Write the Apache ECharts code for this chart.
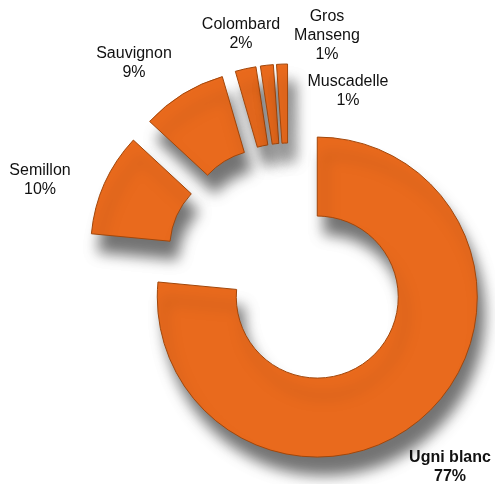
<!DOCTYPE html>
<html>
<head>
<meta charset="utf-8">
<script src="https://cdn.jsdelivr.net/npm/echarts@6/dist/echarts.min.js"></script>
<style>
html,body{margin:0;padding:0;background:#fff;}
#main{width:495px;height:484px;}
</style>
</head>
<body>
<div id="main"></div>
<script>
var categories = ['Ugni blanc', 'Semillon', 'Sauvignon', 'Colombard', 'Gros Manseng', 'Muscadelle'];
var values = [76.5, 10.4, 8.6, 2.1, 1.3, 1.1];
var labelNames = ['Ugni blanc', 'Semillon', 'Sauvignon', 'Colombard', 'Gros\nManseng', 'Muscadelle'];
var labelPos = [[450, 467], [40, 180], [134, 63], [241, 34], [327, 36], [348, 91]];

var total = values.reduce(function (a, b) { return a + b; }, 0);
var chart = echarts.init(document.getElementById('main'), null, {renderer: 'canvas'});
var data = categories.map(function (c, i) {
  return {name: c, value: values[i], selected: true};
});
var texts = categories.map(function (c, i) {
  var pct = Math.round(values[i] / total * 100);
  return {
    type: 'text',
    x: labelPos[i][0],
    y: labelPos[i][1],
    silent: true,
    style: {
      text: labelNames[i] + '\n' + pct + '%',
      textAlign: 'center',
      textVerticalAlign: 'middle',
      fontFamily: 'Liberation Sans, Arial, sans-serif',
      fontSize: 16,
      fontWeight: i === 0 ? 'bold' : 'normal',
      lineHeight: 19,
      fill: '#111'
    }
  };
});
chart.setOption({
  animation: false,
  backgroundColor: '#ffffff',
  graphic: texts,
  series: [{
    type: 'pie',
    center: [289, 266],
    radius: [81, 160],
    startAngle: 90,
    clockwise: true,
    selectedMode: 'multiple',
    selectedOffset: 42,
    emphasis: {disabled: true},
    itemStyle: {
      color: '#E96A1D',
      borderColor: '#A2470B',
      borderWidth: 1,
      shadowColor: 'rgba(0,0,0,0.55)',
      shadowBlur: 14,
      shadowOffsetX: 7,
      shadowOffsetY: 18
    },
    label: {show: false},
    labelLine: {show: false},
    data: data
  }]
});
</script>
</body>
</html>
